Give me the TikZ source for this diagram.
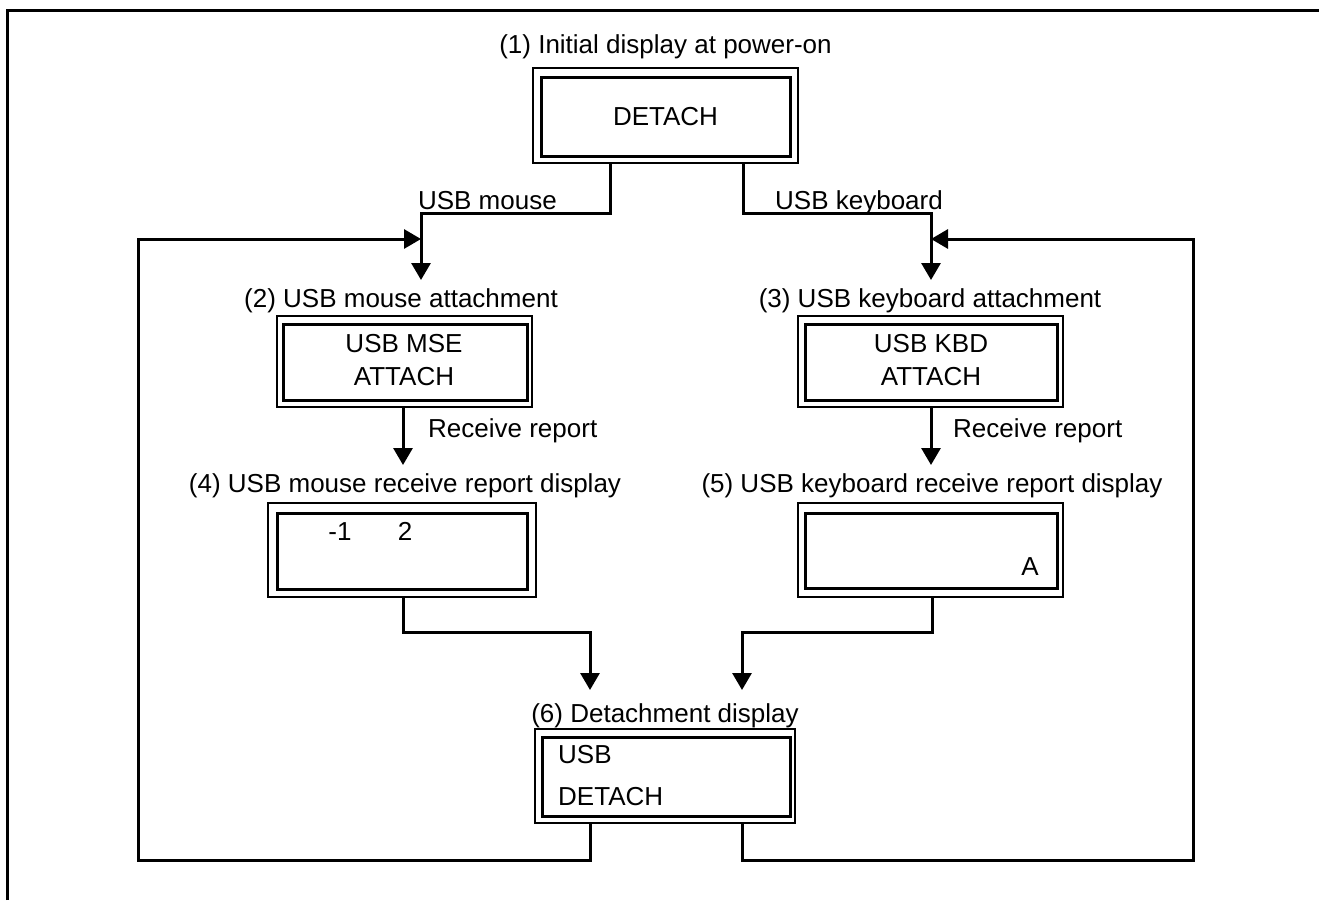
\documentclass[tikz,border=0pt]{standalone}
\usepackage{fontspec}
\setmainfont{Liberation Sans}
\usetikzlibrary{arrows.meta,calc}
\begin{document}
\begin{tikzpicture}[x=1pt,y=-1pt,
  outerbox/.style={draw,line width=2pt,inner sep=0pt,outer sep=0pt},
  innerbox/.style={draw,line width=3pt,inner sep=0pt,outer sep=0pt},
  txt/.style={inner sep=0pt,font=\fontsize{26}{30}\selectfont},
  conn/.style={line width=3pt},
  arr/.style={conn,-{Triangle[width=19pt,length=17pt]}}]
\useasboundingbox (0,0) rectangle (1319,900);
% frame
\draw[line width=3pt] (7,900) -- (7,10.5) -- (1325,10.5);

% box 1
\node[txt,anchor=base] (l1) at (665.5,53) {(1) Initial display at power-on};
\node[outerbox,minimum width=265pt,minimum height=95pt] (o1) at (665.5,115.5) {};
\node[innerbox,minimum width=249pt,minimum height=79pt] (i1) at (665.5,116.5) {};
\node[txt,anchor=base] (d1) at (665.5,125) {DETACH};

% box 2
\node[txt,anchor=base] (l2) at (401,307) {(2) USB mouse attachment};
\node[outerbox,minimum width=255pt,minimum height=91pt] (o2) at (404.5,361.5) {};
\node[innerbox,minimum width=244pt,minimum height=76pt] (i2) at (405,362) {};
\node[txt,anchor=base] (d2a) at (404,352) {USB MSE};
\node[txt,anchor=base] (d2b) at (404,385) {ATTACH};

% box 3
\node[txt,anchor=base] (l3) at (930,307) {(3) USB keyboard attachment};
\node[outerbox,minimum width=265pt,minimum height=91pt] (o3) at (930.5,361.5) {};
\node[innerbox,minimum width=252pt,minimum height=76pt] (i3) at (931,362) {};
\node[txt,anchor=base] (d3a) at (931,352) {USB KBD};
\node[txt,anchor=base] (d3b) at (931,385) {ATTACH};

% box 4
\node[txt,anchor=base] (l4) at (405,492) {(4) USB mouse receive report display};
\node[outerbox,minimum width=268pt,minimum height=94pt] (o4) at (402,550) {};
\node[innerbox,minimum width=250pt,minimum height=76pt] (i4) at (402,551) {};
\node[txt,anchor=base] (d4a) at (340,540) {-1};
\node[txt,anchor=base] (d4b) at (405,540) {2};

% box 5
\node[txt,anchor=base] (l5) at (932,492) {(5) USB keyboard receive report display};
\node[outerbox,minimum width=265pt,minimum height=94pt] (o5) at (930.5,550) {};
\node[innerbox,minimum width=252pt,minimum height=75pt] (i5) at (931,550.5) {};
\node[txt,anchor=base] (d5) at (1030,575) {A};

% box 6
\node[txt,anchor=base] (l6) at (665,722) {(6) Detachment display};
\node[outerbox,minimum width=260pt,minimum height=94pt] (o6) at (665,776) {};
\node[innerbox,minimum width=248pt,minimum height=79pt] (i6) at (666,776.5) {};
\node[txt,anchor=base west] (d6a) at (558,763) {USB};
\node[txt,anchor=base west] (d6b) at (558,805) {DETACH};

% edge labels
\node[txt,anchor=base east] (e1) at (557,209) {USB mouse};
\node[txt,anchor=base west] (e2) at (775,209) {USB keyboard};
\node[txt,anchor=base west] (e3) at (428,437) {Receive report};
\node[txt,anchor=base west] (e4) at (953,437) {Receive report};

% coordinates
\coordinate (t2) at (421,280);
\coordinate (t3) at (931,280);
\coordinate (m2) at (421,239);
\coordinate (m3) at (931,239);
\coordinate (lc) at (138,239);
\coordinate (rc) at (1193,239);
\coordinate (t6l) at (590,690);
\coordinate (t6r) at (742,690);

% connectors
\draw[arr] ([xshift=-55.5pt]o1.south) -- ++(0,50) -| (t2);
\draw[arr] ([xshift=77.5pt]o1.south) -- ++(0,50) -| (t3);
\draw[arr] ([xshift=-75pt]o6.south) -- ++(0,37) -| (lc) -- (m2);
\draw[arr] ([xshift=77pt]o6.south) -- ++(0,37) -| (rc) -- (m3);
\draw[arr] ([xshift=-1.5pt]o2.south) -- ++(0,58);
\draw[arr] ([xshift=0.5pt]o3.south) -- ++(0,58);
\draw[arr] ([xshift=1pt]o4.south) -- ++(0,35) -| (t6l);
\draw[arr] ([xshift=1.5pt]o5.south) -- ++(0,35) -| (t6r);
\end{tikzpicture}
\end{document}
